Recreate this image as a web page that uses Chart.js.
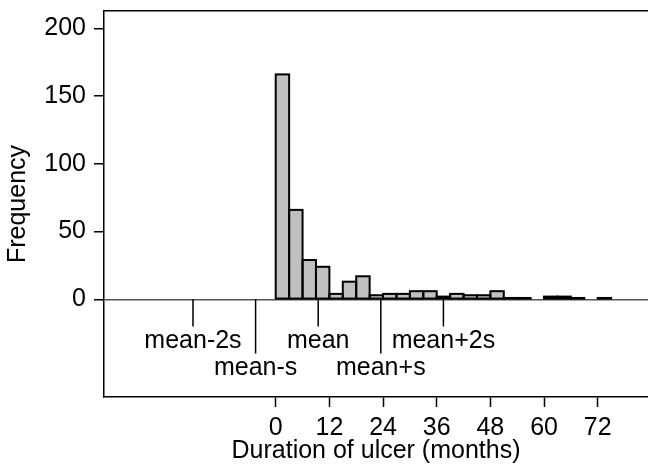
<!DOCTYPE html>
<html>
<head>
<meta charset="utf-8">
<title>Duration of ulcer</title>
<script src="https://cdn.jsdelivr.net/npm/chart.js@4.4.1/dist/chart.umd.min.js"></script>
<style>
  html, body { margin: 0; padding: 0; background: #fff; }
  canvas { display: block; }
</style>
</head>
<body>
<canvas id="ulcerChart" width="648" height="469"></canvas>
<script>
/* Histogram of ulcer duration (3-month bins) with mean ± s markers */

const binStarts = [0, 3, 6, 9, 12, 15, 18, 21, 24, 27, 30, 33, 36, 39, 42, 45, 48, 51, 54, 57, 60, 63, 66, 69, 72];
const binCounts = [166, 66, 29, 24, 4, 13, 17, 3, 4, 4, 6, 6, 2, 4, 3, 3, 6, 1, 1, 0, 2, 2, 1, 0, 1];
const binWidth  = 3;

const xTicks = [0, 12, 24, 36, 48, 60, 72];
const yTicks = [0, 50, 100, 150, 200];

const meanMonths = 9.5;
const sdMonths   = 14;
const markerNames = ['mean-2s', 'mean-s', 'mean', 'mean+s', 'mean+2s'];
const markerSteps = [-2, -1, 0, 1, 2];

const FONT = '"Liberation Sans", Arial, Helvetica, sans-serif';
Chart.defaults.font.family = FONT;
Chart.defaults.color = '#000';

const markerAt = i => meanMonths + markerSteps[i] * sdMonths;
const isLowRow = i => Math.abs(markerSteps[i]) % 2 === 1;

// outline each non-empty bin with a centred stroke (bars share edges)
const binOutline = {
  id: 'binOutline',
  afterDatasetDraw(chart, args) {
    if (args.index !== 0) return;
    const { ctx } = chart;
    ctx.save();
    ctx.strokeStyle = '#000';
    ctx.lineWidth = 2;
    args.meta.data.forEach((bar, i) => {
      if (!binCounts[i]) return;
      const { x, y, base, width } = bar.getProps(['x', 'y', 'base', 'width'], true);
      ctx.strokeRect(x - width / 2, y, width, base - y);
    });
    ctx.restore();
  },
};

// text under each marker tick, placed through the chart scales
const markerLabels = {
  id: 'markerLabels',
  afterDatasetsDraw(chart) {
    const { ctx, scales: { x, y } } = chart;
    ctx.save();
    ctx.font = '25px ' + FONT;
    ctx.fillStyle = '#000';
    ctx.textAlign = 'center';
    ctx.textBaseline = 'middle';
    markerNames.forEach((name, i) => {
      const row = isLowRow(i) ? -51 : -31;
      ctx.fillText(name, x.getPixelForValue(markerAt(i)), y.getPixelForValue(row));
    });
    ctx.restore();
  },
};

const markerLines = markerNames.map((name, i) => ({
  type: 'line',
  label: name,
  data: [
    { x: markerAt(i), y: 0 },
    { x: markerAt(i), y: isLowRow(i) ? -40 : -20 },
  ],
  borderColor: '#000',
  borderWidth: 1.5,
  pointRadius: 0,
  fill: false,
}));

const noPad = s => { s.paddingTop = 0; s.paddingBottom = 0; s.paddingLeft = 0; s.paddingRight = 0; };

new Chart(document.getElementById('ulcerChart'), {
  type: 'bar',
  data: {
    datasets: [
      {
        label: 'Frequency',
        data: binStarts.map((s, i) => ({ x: s + binWidth / 2, y: binCounts[i] })),
        backgroundColor: '#c0c0c0',
        borderWidth: 0,
        inflateAmount: 0,
        barPercentage: 1,
        categoryPercentage: 1,
      },
      ...markerLines,
    ],
  },
  options: {
    responsive: false,
    animation: false,
    events: [],
    layout: { padding: 0 },
    plugins: { legend: { display: false }, tooltip: { enabled: false } },
    scales: {
      x: {
        type: 'linear',
        position: 'bottom',
        min: -38.4,
        max: 83.25,
        offset: false,
        afterBuildTicks: s => { s.ticks = xTicks.map(v => ({ value: v })); },
        afterFit: s => { s.height = 72; noPad(s); },
        grid: { display: true, offset: false, drawOnChartArea: false, tickLength: 10, tickColor: '#000', tickWidth: 1.5 },
        border: { color: '#000', width: 1.5 },
        ticks: { color: '#000', font: { size: 25 }, padding: 6, maxRotation: 0, autoSkip: false },
        title: {
          display: true,
          text: 'Duration of ulcer (months)',
          color: '#000',
          font: { size: 25 },
          padding: { top: 0, bottom: 3 },
        },
      },
      xTop: {
        type: 'linear',
        position: 'top',
        min: -38.4,
        max: 83.25,
        offset: false,
        ticks: { display: false },
        grid: { display: false },
        border: { display: true, color: '#000', width: 1.5 },
        afterFit: s => { s.height = 11; noPad(s); },
      },
      y: {
        type: 'linear',
        min: -72.1,
        max: 212.8,
        afterBuildTicks: s => { s.ticks = yTicks.map(v => ({ value: v })); },
        afterFit: s => { s.width = 104; noPad(s); },
        grid: {
          color: c => (c.tick && c.tick.value === 0 ? '#555' : 'rgba(0,0,0,0)'),
          lineWidth: 1.5,
          tickColor: '#000',
          tickLength: 10,
          tickWidth: 1.5,
        },
        border: { color: '#000', width: 1.5 },
        ticks: { color: '#000', font: { size: 25 }, padding: 8 },
        title: {
          display: true,
          text: 'Frequency',
          color: '#000',
          font: { size: 25 },
          padding: { top: 3, bottom: 0 },
        },
      },
    },
  },
  plugins: [binOutline, markerLabels],
});
</script>
</body>
</html>
